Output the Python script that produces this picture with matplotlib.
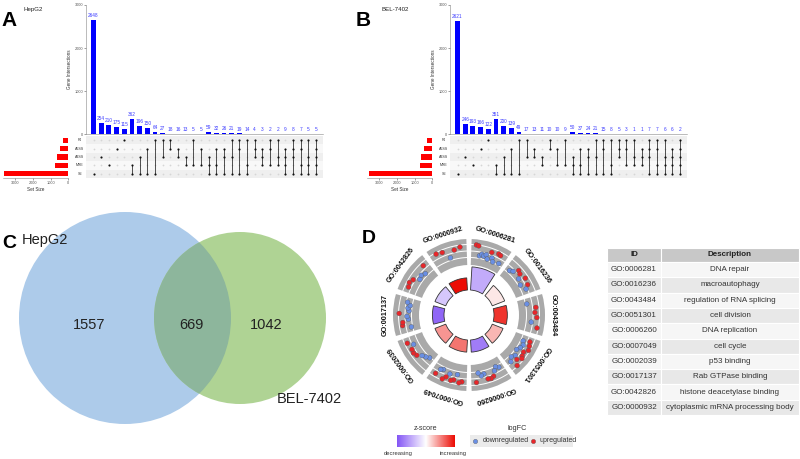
import matplotlib
matplotlib.use('Agg')
import matplotlib.pyplot as plt
import numpy as np
from matplotlib.patches import Circle, Rectangle
from matplotlib.colors import LinearSegmentedColormap

plt.rcParams['font.family'] = ['Liberation Sans', 'DejaVu Sans']

# ---------------- DATA ----------------
sets = ['RI', 'A5SS', 'A3SS', 'MXE', 'SE']

combos_A = [('SE',), ('A3SS',), ('MXE',), ('A5SS',), ('RI',),
            ('MXE', 'SE'), ('A3SS', 'SE'), ('A5SS', 'SE'), ('RI', 'SE'), ('RI', 'A3SS'),
            ('RI', 'A5SS'), ('A5SS', 'A3SS'), ('A3SS', 'MXE'), ('RI', 'MXE'), ('A5SS', 'MXE'),
            ('A3SS', 'MXE', 'SE'), ('A5SS', 'MXE', 'SE'), ('A5SS', 'A3SS', 'SE'), ('RI', 'A3SS', 'SE'),
            ('RI', 'A5SS', 'SE'), ('RI', 'MXE', 'SE'), ('RI', 'A5SS', 'A3SS'), ('A5SS', 'A3SS', 'MXE'),
            ('RI', 'A5SS', 'MXE'), ('RI', 'A3SS', 'MXE'),
            ('A5SS', 'A3SS', 'MXE', 'SE'), ('RI', 'A5SS', 'A3SS', 'SE'), ('RI', 'A5SS', 'MXE', 'SE'),
            ('RI', 'A3SS', 'MXE', 'SE'), ('RI', 'A5SS', 'A3SS', 'MXE', 'SE')]
counts_A = [2648, 254, 210, 175, 115, 362, 196, 150, 64, 27, 18, 16, 13, 5, 5,
            59, 32, 26, 21, 19, 14, 4, 3, 2, 2, 9, 8, 7, 5, 5]

combos_B = [('SE',), ('A3SS',), ('MXE',), ('A5SS',), ('RI',),
            ('MXE', 'SE'), ('A3SS', 'SE'), ('A5SS', 'SE'), ('RI', 'SE'), ('RI', 'A3SS'),
            ('A5SS', 'A3SS'), ('A3SS', 'MXE'), ('RI', 'A5SS'), ('A5SS', 'MXE'), ('RI', 'MXE'),
            ('A3SS', 'MXE', 'SE'), ('A5SS', 'MXE', 'SE'), ('A5SS', 'A3SS', 'SE'), ('RI', 'A3SS', 'SE'),
            ('RI', 'A5SS', 'SE'), ('RI', 'MXE', 'SE'), ('RI', 'A5SS', 'A3SS'), ('RI', 'A5SS', 'MXE'),
            ('RI', 'A3SS', 'MXE'), ('A5SS', 'A3SS', 'MXE'),
            ('RI', 'A5SS', 'A3SS', 'SE'), ('RI', 'A5SS', 'MXE', 'SE'), ('RI', 'A3SS', 'MXE', 'SE'),
            ('A5SS', 'A3SS', 'MXE', 'SE'), ('RI', 'A5SS', 'A3SS', 'MXE', 'SE')]
counts_B = [2621, 246, 193, 166, 122, 351, 200, 139, 49, 17, 13, 11, 10, 10, 9,
            50, 37, 24, 21, 15, 8, 5, 3, 1, 1, 7, 7, 6, 6, 2]

venn_labels = ['HepG2', 'BEL-7402']
venn_counts = [1557, 669, 1042]   # only HepG2, both, only BEL-7402

go_ids = ['GO:0006281', 'GO:0016236', 'GO:0043484', 'GO:0051301', 'GO:0006260',
          'GO:0007049', 'GO:0002039', 'GO:0017137', 'GO:0042826', 'GO:0000932']
go_desc = ['DNA repair', 'macroautophagy', 'regulation of RNA splicing', 'cell division',
           'DNA replication', 'cell cycle', 'p53 binding', 'Rab GTPase binding',
           'histone deacetylase binding', 'cytoplasmic mRNA processing body']
zscores = [-1.5, 0.3, 2.5, 0.9, -2.3, 1.7, 1.3, -2.7, -1.0, 3.0]
neglogp = [4.0, 2.3, 2.3, 2.0, 2.1, 2.1, 2.0, 2.0, 2.0, 2.1]
logfc = [
    [1.0, 0.9, -0.6, -0.3, -0.5, -0.2, -0.8, 0.4, -0.4, -0.9, 0.6, 0.5, -0.7],
    [-0.6, -0.3, 0.4, 0.2, -0.4, 0.5, -0.7, 0.3, -0.2],
    [-0.8, 0.5, 0.3, 0.6, -0.2, 0.8],
    [0.4, -0.6, 0.6, -0.3, 0.8, -0.5, 0.3, -0.8, 0.5, 0.7, -0.4, 0.2, -0.7, 0.9, -0.2],
    [-0.6, -0.9, -0.4, 0.3, 0.5, 0.4, -0.5, -0.3, -0.8, 0.6],
    [0.5, 0.7, -0.5, 0.4, 0.6, -0.3, 0.3, 0.8, -0.6, -0.4, 0.5],
    [-0.9, -0.6, -0.3, 0.3, 0.5, 0.4, -0.2, 0.6],
    [-0.8, 0.5, 0.4, -0.5, -0.3, 0.9, -0.6, -0.4, -0.7, -0.2],
    [0.4, 0.6, 0.3, -0.5, -0.3, -0.6, 0.5],
    [0.8, 0.6, -0.6, 0.4, 0.7],
]

# ---------------- FIGURE ----------------
W, H = 800, 459
fig = plt.figure(figsize=(W / 100, H / 100), dpi=100)


def ax_px(x0, y0, x1, y1, **kw):
    return fig.add_axes([x0 / W, 1 - y1 / H, (x1 - x0) / W, (y1 - y0) / H], **kw)


def draw_upset(dx, combos, counts, title, letter, ldx):
    n = len(counts)
    # intersection bars
    ax = ax_px(86 + dx, 5, 323 + dx, 134.3)
    ax.bar(range(n), counts, width=0.62, color='#0000ff')
    for i, c in enumerate(counts):
        ax.text(i, c + 45, str(c), ha='center', va='bottom', fontsize=3.4, color='#3b3bff')
    ax.set_xlim(-0.98, 29.9)
    ax.set_ylim(0, 3000)
    ax.set_xticks([])
    ax.set_yticks([0, 1000, 2000, 3000])
    ax.tick_params(axis='y', labelsize=2.8, length=1.2, width=0.4, pad=1, colors='#555555')
    for s in ['top', 'right']:
        ax.spines[s].set_visible(False)
    for s in ['left', 'bottom']:
        ax.spines[s].set_linewidth(0.4)
        ax.spines[s].set_color('#888888')
    ax.set_ylabel('Gene Intersections', fontsize=3.3, labelpad=1.5, color='#333333')

    # matrix
    mx = ax_px(86 + dx, 136, 323 + dx, 178)
    mx.set_xlim(-0.98, 29.9)
    mx.set_ylim(4.5, -0.5)
    for r in range(5):
        mx.axhspan(r - 0.5, r + 0.5, color='#efefef' if r % 2 == 0 else '#f8f8f8', lw=0)
    for i, comb in enumerate(combos):
        rows = [sets.index(s) for s in comb]
        empty = [r for r in range(5) if r not in rows]
        mx.scatter([i] * len(empty), empty, s=1.6, color='#d6d6d6', lw=0, zorder=2)
        if len(rows) > 1:
            mx.plot([i, i], [min(rows), max(rows)], color='#222222', lw=0.55, zorder=3)
        mx.scatter([i] * len(rows), rows, s=2.4, color='#111111', lw=0, zorder=4)
    for r, s in enumerate(sets):
        mx.text(-1.79, r, s, ha='center', va='center', fontsize=2.6, color='#333333', clip_on=False)
    mx.axis('off')

    # set sizes
    sizes = [sum(c for comb, c in zip(combos, counts) if s in comb) for s in sets]
    sx = ax_px(3 + dx, 136, 68.3 + dx, 178)
    sx.barh(range(5), sizes, height=0.6, color='#ff0000')
    sx.set_xlim(3670, 0)
    sx.set_ylim(4.5, -0.5)
    sx.set_yticks([])
    sx.set_xticks([3000, 2000, 1000, 0])
    sx.tick_params(axis='x', labelsize=2.8, length=1.2, width=0.4, pad=1, colors='#555555')
    for s in ['top', 'right', 'left']:
        sx.spines[s].set_visible(False)
    sx.spines['bottom'].set_linewidth(0.4)
    sx.spines['bottom'].set_color('#888888')
    sx.set_xlabel('Set Size', fontsize=3.3, labelpad=1.5, color='#333333')

    fig.text((1 + ldx) / W, 1 - 26 / H, letter, fontsize=15, fontweight='bold')
    fig.text((24 + ldx + (3 if letter == 'B' else 0)) / W, 1 - 11 / H, title, fontsize=4.4,
             color='#222222')


draw_upset(0, combos_A, counts_A, 'HepG2', 'A', 0)
draw_upset(364, combos_B, counts_B, 'BEL-7402', 'B', 355)

# ---------------- VENN ----------------
vx = ax_px(0, 200, 360, 459)
vx.set_xlim(0, 360)
vx.set_ylim(459, 200)
vx.axis('off')
c1 = Circle((125, 318), 106, fc='#adcbea', ec='none')
c2 = Circle((240, 318), 86, fc='#afd394', ec='none')
c3 = Circle((240, 318), 86, fc='#8db69c', ec='none')
vx.add_patch(c1)
vx.add_patch(c2)
vx.add_patch(c3)
c3.set_clip_path(c1)
vx.text(22, 240, venn_labels[0], fontsize=10.5, va='center', ha='left', color='#222222')
vx.text(277, 399, venn_labels[1], fontsize=10.5, va='center', ha='left', color='#222222')
for xp, v in zip([89, 191, 266], venn_counts):
    vx.text(xp, 325, str(v), fontsize=10.5, ha='center', va='center', color='#222222')
fig.text(2 / W, 1 - 248 / H, 'C', fontsize=14, fontweight='bold')

# ---------------- GO CIRCLE ----------------
cx, cy, R = 469, 315, 100
px = ax_px(cx - R, cy - R, cx + R, cy + R, projection='polar')
px.set_theta_zero_location('N')
px.set_theta_direction(-1)
px.set_ylim(0, R)
px.axis('off')
px.patch.set_alpha(0)
zcmap = LinearSegmentedColormap.from_list('z', ['#8456f5', '#ffffff', '#ec0c04'])
nt = len(go_ids)
step = 360 / nt
for i in range(nt):
    c = np.deg2rad(step / 2 + step * i)
    half = np.deg2rad(16)
    px.bar(c, 26, width=np.deg2rad(32), bottom=50, color='#a9a9a9', edgecolor='none', zorder=1)
    th = np.linspace(c - half, c + half, 40)
    for rr in [57.5, 64, 70.5]:
        px.plot(th, [rr] * len(th), color='white', lw=0.7, zorder=2)
    vals = logfc[i]
    k = len(vals)
    angs = c - np.deg2rad(13) + (np.arange(k) + 0.5) / k * np.deg2rad(26)
    rad = 64 + np.array(vals) * 6.5
    cols = ['#e8262a' if v > 0 else '#6a8fe3' for v in vals]
    px.scatter(angs, rad, s=12, c=cols, edgecolors='#555555', linewidths=0.25, zorder=3)
    # inner z-score ring
    px.bar(c, neglogp[i] * 5.8, width=np.deg2rad(29), bottom=25,
           color=zcmap((zscores[i] + 3) / 6), edgecolor='#333333', linewidth=0.6, zorder=2)
    px.text(c, 84, go_ids[i], rotation=-(step / 2 + step * i), rotation_mode='anchor',
            ha='center', va='center', fontsize=5.2, fontweight='bold', color='#111111')
fig.text(362 / W, 1 - 243 / H, 'D', fontsize=14, fontweight='bold')

# legend: z-score colour bar
cb = ax_px(397, 435, 455, 446.5)
cb.imshow(np.linspace(0, 1, 200)[None, :], cmap=zcmap, aspect='auto', extent=[0, 1, 0, 1])
cb.axis('off')
fig.text(425.7 / W, 1 - 428.5 / H, 'z-score', fontsize=5.2, ha='center', va='center', color='#333333')
fig.text(398.3 / W, 1 - 453 / H, 'decreasing', fontsize=4.2, ha='center', va='center', color='#333333')
fig.text(453.3 / W, 1 - 453 / H, 'increasing', fontsize=4.2, ha='center', va='center', color='#333333')
# legend: logFC
lg = ax_px(470, 435, 573.3, 446.5)
lg.set_xlim(470, 573.3)
lg.set_ylim(0, 1)
lg.set_facecolor('#ebebeb')
for s in lg.spines.values():
    s.set_visible(False)
lg.set_xticks([])
lg.set_yticks([])
lg.scatter([475], [0.5], s=10, c='#6a8fe3', edgecolors='#555555', linewidths=0.25)
lg.scatter([533.3], [0.5], s=10, c='#e8262a', edgecolors='#555555', linewidths=0.25)
lg.text(483, 0.5, 'downregulated', fontsize=5.0, va='center', ha='left', color='#333333')
lg.text(540, 0.5, 'upregulated', fontsize=5.0, va='center', ha='left', color='#333333')
fig.text(516.7 / W, 1 - 428.5 / H, 'logFC', fontsize=5.2, ha='center', va='center', color='#333333')

# ---------------- TABLE ----------------
tx = ax_px(600, 240, 800, 420)
tx.set_xlim(600, 800)
tx.set_ylim(420, 240)
tx.axis('off')
x0, xm, x1 = 607, 661, 799
y0, hh, rh = 248, 14, 15.3
tx.add_patch(Rectangle((x0, y0), xm - x0, hh, fc='#c8c8c8', ec='white', lw=0.8))
tx.add_patch(Rectangle((xm, y0), x1 - xm, hh, fc='#c8c8c8', ec='white', lw=0.8))
tx.text((x0 + xm) / 2, y0 + hh / 2, 'ID', ha='center', va='center', fontsize=5.8, fontweight='bold', color='#222222')
tx.text((xm + x1) / 2, y0 + hh / 2, 'Description', ha='center', va='center', fontsize=5.8, fontweight='bold', color='#222222')
for i, (gid, d) in enumerate(zip(go_ids, go_desc)):
    yy = y0 + hh + i * rh
    fc = '#f6f6f6' if i % 2 == 0 else '#e8e8e8'
    tx.add_patch(Rectangle((x0, yy), xm - x0, rh, fc=fc, ec='white', lw=0.8))
    tx.add_patch(Rectangle((xm, yy), x1 - xm, rh, fc=fc, ec='white', lw=0.8))
    tx.text((x0 + xm) / 2, yy + rh / 2, gid, ha='center', va='center', fontsize=5.8, color='#333333')
    tx.text((xm + x1) / 2, yy + rh / 2, d, ha='center', va='center', fontsize=5.8, color='#333333')

fig.savefig('out.png', dpi=100)
